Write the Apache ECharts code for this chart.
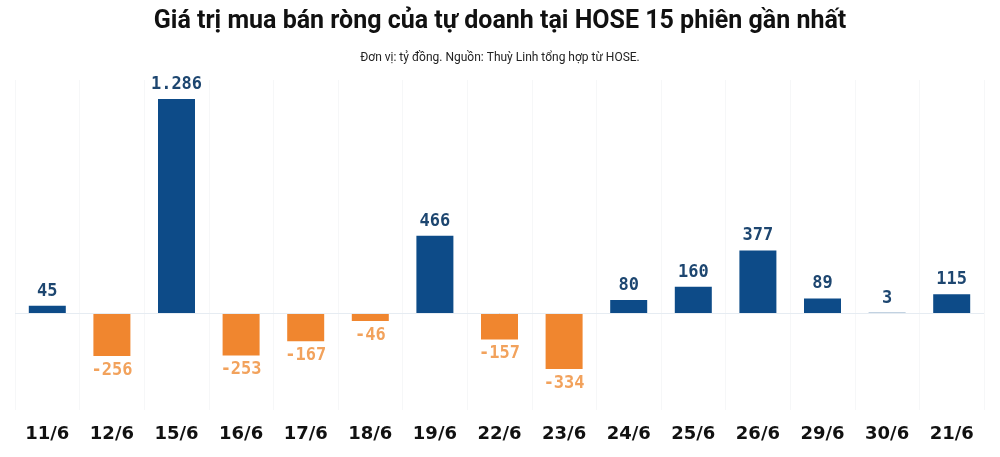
<!DOCTYPE html>
<html>
<head>
<meta charset="utf-8">
<script src="https://cdn.jsdelivr.net/npm/echarts@6/dist/echarts.min.js"></script>
<style>
  html, body { margin: 0; padding: 0; background: #fff; }
  #chart { width: 1000px; height: 457px; }
</style>
</head>
<body>
<div id="chart"></div>
<script>
var chartDom = document.getElementById("chart");
var chart = echarts.init(chartDom);

// phiên giao dịch
var sessions = ["11/6", "12/6", "15/6", "16/6", "17/6", "18/6", "19/6", "22/6",
	"23/6", "24/6", "25/6", "26/6", "29/6", "30/6", "21/6"];
// giá trị mua bán ròng (tỷ đồng)
var netValues = [45, -256, 1286, -253, -167, -46, 466, -157, -334, 80, 160, 377, 89, 3, 115];

var blue = "#0d4b88";
var orange = "#f0862f";

function fmt(v) {
	var s = Math.abs(v).toString().replace(/\B(?=(\d{3})+(?!\d))/g, ".");
	return (v < 0 ? "-" : "") + s;
}

var barData = netValues.map(function(v) {
	var neg = v < 0;
	return {
		value: v,
		itemStyle: { color: neg ? orange : blue },
		label: {
			position: neg ? "bottom" : "top",
			color: neg ? "#f2a25c" : "#1d4670"
		}
	};
});

var option = {
	backgroundColor: "#fff",
	title: [{
		text: "Giá trị mua bán ròng của tự doanh tại HOSE 15 phiên gần nhất",
		left: "center",
		top: 4,
		textStyle: { fontFamily: "Roboto", fontWeight: "bold", fontSize: 25, color: "#111" }
	}, {
		text: "Đơn vị: tỷ đồng. Nguồn: Thuỳ Linh tổng hợp từ HOSE.",
		left: "center",
		top: 47,
		textStyle: { fontFamily: "Roboto", fontWeight: "normal", fontSize: 12, color: "#222" }
	}],
	grid: { left: 15, right: 16, top: 80, bottom: 47 },
	xAxis: {
		type: "category",
		data: sessions,
		axisLine: { show: false },
		axisTick: { show: false },
		splitLine: { show: true, lineStyle: { color: "#f6f7f8", width: 1 } },
		axisLabel: {
			margin: 15,
			fontFamily: "DejaVu Sans",
			fontWeight: "bold",
			fontSize: 18,
			color: "#111"
		}
	},
	yAxis: {
		type: "value",
		min: -580,
		max: 1400,
		show: false
	},
	series: [{
		type: "bar",
		data: barData,
		barWidth: 37,
		label: {
			show: true,
			distance: 6,
			fontFamily: "DejaVu Sans Mono",
			fontWeight: "bold",
			fontSize: 17,
			formatter: function(p) { return fmt(p.value); }
		},
		markLine: {
			silent: true,
			symbol: "none",
			label: { show: false },
			lineStyle: { color: "#e6ecf2", type: "solid", width: 1 },
			data: [{ yAxis: 0 }]
		}
	}]
};

chart.setOption(option);
</script>
</body>
</html>
